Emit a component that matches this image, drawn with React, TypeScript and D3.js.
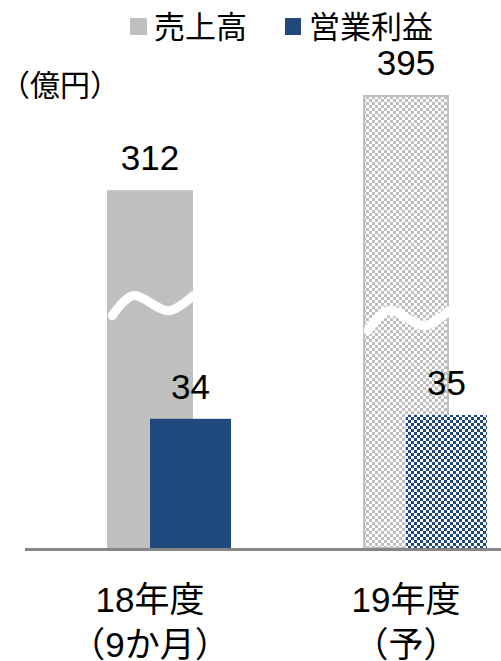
import React from "react";
import * as d3 from "d3";

const categories = ["18年度", "19年度"];
const subLabels = ["（9か月）", "（予）"];
const sales = [312, 395];
const opProfit = [34, 35];
const forecast = [false, true];
const breakValues = [213, 200];
const legendLabels = ["売上高", "営業利益"];
const unitLabel = "（億円）";
const titleText = "【売上高・営業利益推移】";

const W = 501;
const H = 661;
const BASE = 548;
const GRAY = "#bfbfbf";
const BLUE = "#1f497d";
const FONT = "'Liberation Sans', Arial, 'Noto Sans CJK JP', sans-serif";

export default function App() {
  const xCenter = d3.scalePoint<string>().domain(categories).range([150, 406]);
  const ySales = d3.scaleLinear().domain([0, 395]).range([BASE, 95]);
  const yOp = d3.scaleLinear().domain([0, 35]).range([BASE, 415]);
  const salesW = 86;
  const opW = 81;

  const wave = [
    [0.06, 12],
    [0.3, -8],
    [0.72, 7],
    [1.0, -8],
  ];
  const line = d3
    .line<number[]>()
    .x((d) => d[0])
    .y((d) => d[1])
    .curve(d3.curveCatmullRom.alpha(0.5));

  return (
    <svg
      width={W}
      height={H}
      style={{ position: "absolute", left: 0, top: 0, background: "#fff" }}
      fontFamily={FONT}
    >
      <defs>
        <pattern id="grayCheck" patternUnits="userSpaceOnUse" width={6} height={6}>
          <rect width={6} height={6} fill="#fff" />
          <rect width={3} height={3} fill={GRAY} />
          <rect x={3} y={3} width={3} height={3} fill={GRAY} />
        </pattern>
        <pattern id="blueCheck" patternUnits="userSpaceOnUse" width={6} height={6}>
          <rect width={6} height={6} fill="#fff" />
          <rect width={3} height={3} fill={BLUE} />
          <rect x={3} y={3} width={3} height={3} fill={BLUE} />
        </pattern>
      </defs>

      <text x={288} y={-5} fontSize={36} textAnchor="middle" fill="#000">
        {titleText}
      </text>

      {/* legend */}
      <rect x={130} y={18} width={17} height={17} fill={GRAY} />
      <text x={154} y={38} fontSize={31} fill="#000">
        {legendLabels[0]}
      </text>
      <rect x={285} y={18} width={16} height={17} fill={BLUE} />
      <text x={309} y={38} fontSize={31} fill="#000">
        {legendLabels[1]}
      </text>

      <text x={0} y={96} fontSize={30} fill="#000">
        {unitLabel}
      </text>

      {categories.map((c, i) => {
        const cx = xCenter(c)!;
        const sx = cx - salesW / 2;
        const ox = cx;
        const sy = ySales(sales[i]);
        const oy = yOp(opProfit[i]);
        const by = ySales(breakValues[i]);
        const pts = wave.map((p) => [sx + p[0] * salesW, by + p[1]]);
        return (
          <g key={c}>
            {forecast[i] ? (
              <rect
                x={sx + 1}
                y={sy + 1}
                width={salesW - 2}
                height={BASE - sy - 1}
                fill="url(#grayCheck)"
                stroke={GRAY}
                strokeWidth={2}
              />
            ) : (
              <rect x={sx} y={sy} width={salesW} height={BASE - sy} fill={GRAY} />
            )}
            <path
              d={line(pts) || ""}
              fill="none"
              stroke="#fff"
              strokeWidth={9}
              strokeLinecap="round"
            />
            <rect
              x={ox}
              y={oy}
              width={opW}
              height={BASE - oy}
              fill={forecast[i] ? "url(#blueCheck)" : BLUE}
            />
            <text x={cx} y={sy - 20} fontSize={35} textAnchor="middle" fill="#000">
              {sales[i]}
            </text>
            <text x={ox + opW / 2} y={oy - 20} fontSize={35} textAnchor="middle" fill="#000">
              {opProfit[i]}
            </text>
            <text x={cx} y={612} fontSize={35} textAnchor="middle" fill="#000">
              {c}
            </text>
            <text x={cx} y={657} fontSize={35} textAnchor="middle" fill="#000">
              {subLabels[i]}
            </text>
          </g>
        );
      })}

      <line x1={25} x2={W} y1={549.5} y2={549.5} stroke="#868686" strokeWidth={3} />
    </svg>
  );
}
